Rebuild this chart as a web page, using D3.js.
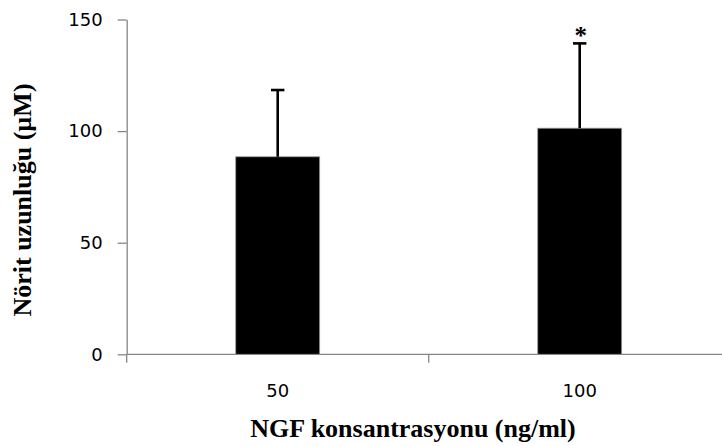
<!DOCTYPE html>
<html>
<head>
<meta charset="utf-8">
<script src="https://cdn.jsdelivr.net/npm/d3@7"></script>
<style>
  html, body { margin: 0; padding: 0; background: #fff; }
  svg { display: block; }
</style>
</head>
<body>
<svg id="chart" width="722" height="446"></svg>
<script>
// NGF concentrations (ng/ml) and mean neurite length with upper error
const categories = ["50", "100"];
const means = [88.5, 101.3];
const errorTops = [118.4, 139.3];
const significance = ["", "*"];
const yTicks = [0, 50, 100, 150];

const svg = d3.select("#chart");
const axisColor = "#868686";
const tickFont = "'DejaVu Sans', Verdana, sans-serif";
const titleFont = "'Liberation Serif', 'Times New Roman', serif";

const plot = { left: 126.7, right: 730.7, top: 19.5, bottom: 354.3 };

const x = d3.scaleBand().domain(categories).range([plot.left, plot.right]).padding(0);
const y = d3.scaleLinear().domain([0, 150]).range([plot.bottom, plot.top]);

const barW = x.bandwidth() * 0.278;

// Y axis
const yAxis = svg.append("g")
  .attr("transform", `translate(${plot.left},0)`)
  .call(d3.axisLeft(y).tickValues(yTicks).tickSize(9).tickSizeOuter(0).tickPadding(15));
yAxis.select(".domain").attr("stroke", axisColor).attr("stroke-width", 1.3);
yAxis.selectAll(".tick line").attr("stroke", axisColor).attr("stroke-width", 1.3);
yAxis.selectAll(".tick text")
  .attr("font-family", tickFont).attr("font-size", 18).attr("fill", "#000");

// X axis: baseline, boundary ticks, centred category labels
const bounds = categories.map(c => x(c)).concat([x(categories[categories.length - 1]) + x.bandwidth()]);
const xAxis = svg.append("g");
xAxis.append("line")
  .attr("x1", plot.left).attr("x2", plot.right).attr("y1", plot.bottom).attr("y2", plot.bottom)
  .attr("stroke", axisColor).attr("stroke-width", 1.3);
xAxis.selectAll("line.bound").data(bounds).join("line")
  .attr("class", "bound")
  .attr("x1", d => d).attr("x2", d => d)
  .attr("y1", plot.bottom).attr("y2", plot.bottom + 8.5)
  .attr("stroke", axisColor).attr("stroke-width", 1.3);
xAxis.selectAll("text").data(categories).join("text")
  .attr("x", d => x(d) + x.bandwidth() / 2)
  .attr("y", plot.bottom + 43)
  .attr("text-anchor", "middle")
  .attr("font-family", tickFont).attr("font-size", 18).attr("fill", "#000")
  .text(d => d);

// Bars
svg.append("g").selectAll("rect").data(categories).join("rect")
  .attr("x", d => x(d) + (x.bandwidth() - barW) / 2)
  .attr("y", (d, i) => y(means[i]))
  .attr("width", barW)
  .attr("height", (d, i) => y(0) - y(means[i]))
  .attr("fill", "#000")
  .attr("stroke", "#9a9a9a").attr("stroke-width", 0.8);

// Upper error bars
const err = svg.append("g").attr("stroke", "#000").attr("stroke-width", 2.6);
categories.forEach((c, i) => {
  const cx = x(c) + x.bandwidth() / 2;
  err.append("line")
    .attr("x1", cx).attr("x2", cx)
    .attr("y1", y(means[i])).attr("y2", y(errorTops[i]));
  err.append("line")
    .attr("x1", cx - 6.7).attr("x2", cx + 6.7)
    .attr("y1", y(errorTops[i])).attr("y2", y(errorTops[i]));
});

// Significance markers
svg.append("g").selectAll("text").data(categories).join("text")
  .attr("x", d => x(d) + x.bandwidth() / 2 + 1)
  .attr("y", (d, i) => y(errorTops[i]) + 0.5)
  .attr("text-anchor", "middle")
  .attr("font-family", titleFont).attr("font-weight", "bold").attr("font-size", 25)
  .attr("fill", "#000")
  .text((d, i) => significance[i]);

// Axis titles
svg.append("text")
  .attr("x", 413).attr("y", 437)
  .attr("text-anchor", "middle")
  .attr("font-family", titleFont).attr("font-weight", "bold").attr("font-size", 26)
  .attr("fill", "#000")
  .text("NGF konsantrasyonu (ng/ml)");

svg.append("text")
  .attr("transform", "translate(31,200) rotate(-90)")
  .attr("text-anchor", "middle")
  .attr("font-family", titleFont).attr("font-weight", "bold").attr("font-size", 26)
  .attr("fill", "#000")
  .text("Nörit uzunluğu (µM)");
</script>
</body>
</html>
